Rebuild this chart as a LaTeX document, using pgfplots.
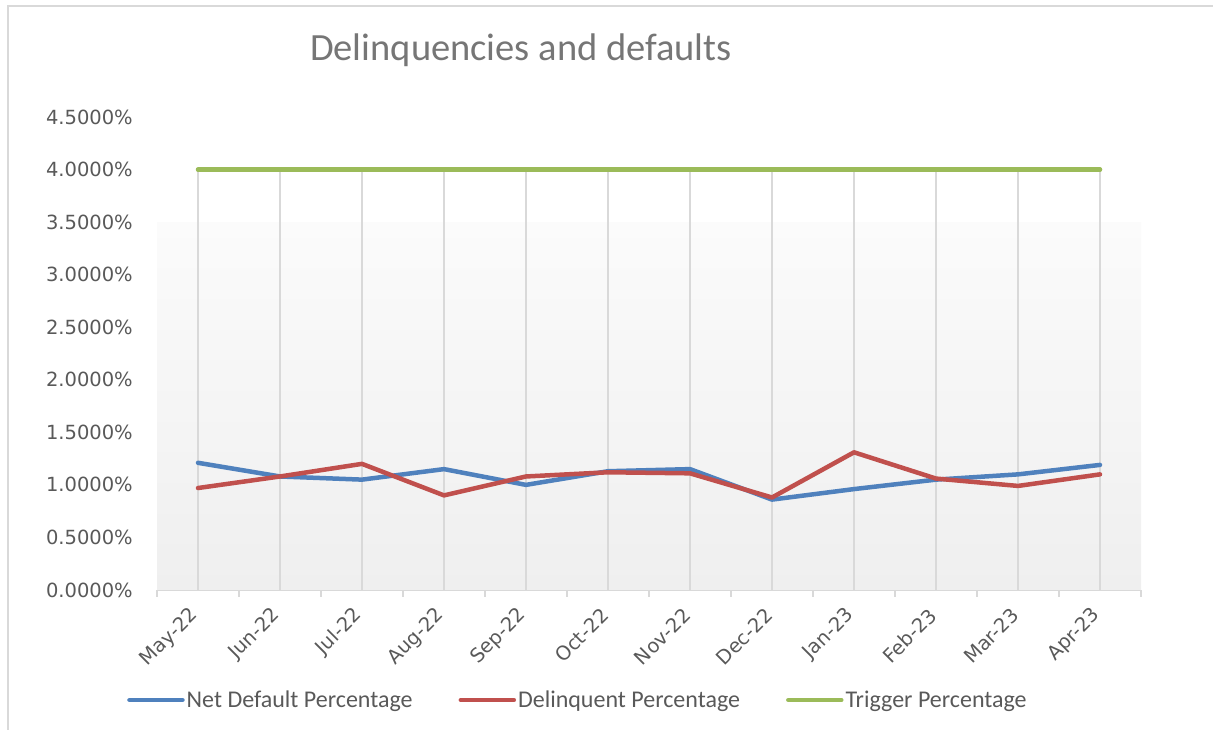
\documentclass[border=0pt]{standalone}
\usepackage{fontspec}
\usepackage{pgfplots}
\pgfplotsset{compat=1.18}
\setmainfont{Carlito}
\newfontfamily\dejavu{DejaVu Sans}
\definecolor{netblue}{HTML}{4F81BD}
\definecolor{delred}{HTML}{C0504D}
\definecolor{trigreen}{HTML}{9BBB59}
\definecolor{gridgray}{HTML}{D9D9D9}
\definecolor{labgray}{HTML}{595959}
\definecolor{titlegray}{HTML}{767676}
\definecolor{bgtop}{HTML}{FBFBFB}
\definecolor{bgbot}{HTML}{EFEFEF}

\pgfplotstableread{
x net del trig
0 1.21 0.97 4
1 1.08 1.08 4
2 1.05 1.20 4
3 1.15 0.90 4
4 1.00 1.08 4
5 1.13 1.12 4
6 1.15 1.11 4
7 0.86 0.88 4
8 0.96 1.31 4
9 1.05 1.06 4
10 1.10 0.99 4
11 1.19 1.10 4
}\datatable

\begin{document}
\begin{tikzpicture}[x=1pt,y=1pt]
\useasboundingbox (0,0) rectangle (1213,730);
\draw[gridgray, line width=1.5pt] (8,0) -- (8,724) -- (1213,724);
\node[anchor=base, font=\fontsize{38.5}{42}\selectfont, text=titlegray] at (521,669) {Delinquencies and defaults};
\begin{axis}[
  at={(157pt,140pt)}, anchor=south west,
  scale only axis, width=984pt, height=473pt,
  xmin=-0.5, xmax=11.5, ymin=0, ymax=4.5,
  axis x line*=bottom, axis y line*=left,
  axis line style={-},
  y axis line style={draw=none},
  x axis line style={draw=gridgray, line width=1.5pt},
  xtick={0,...,11},
  xticklabels={May-22,Jun-22,Jul-22,Aug-22,Sep-22,Oct-22,Nov-22,Dec-22,Jan-23,Feb-23,Mar-23,Apr-23},
  minor xtick={-0.5,0.5,...,11.5},
  major tick length=0pt,
  minor tick length=7pt,
  tick align=outside,
  minor tick style={gridgray, line width=1.5pt},
  ytick={0,0.5,...,4.5},
  yticklabels={0.0000\%,0.5000\%,1.0000\%,1.5000\%,2.0000\%,2.5000\%,3.0000\%,3.5000\%,4.0000\%,4.5000\%},
  ticklabel style={font=\dejavu\fontsize{19.5}{22}\selectfont, text=labgray, inner sep=0pt},
  yticklabel style={xshift=-24pt},
  xticklabel style={xshift=-3pt, yshift=-22pt, rotate=45, anchor=east},
  legend columns=3,
  legend style={at={(-0.0335,-0.2326)}, anchor=west, draw=none, fill=none,
    font=\fontsize{24}{26}\selectfont, text=labgray,
    nodes={inner sep=2pt},
    /tikz/every even column/.append style={column sep=44pt}},
  legend image code/.code={\draw[#1, line cap=round] (0pt,0pt) -- (53pt,0pt);},
  clip=false,
]
\fill[top color=bgtop, bottom color=bgbot] (axis cs:-0.5,0) rectangle (axis cs:11.5,3.5);
\addplot[ycomb, gridgray, line width=1.5pt, no marks, forget plot] table[x=x, y=trig] {\datatable};
\addplot[netblue, line width=4.5pt, line join=round, line cap=round, no marks] table[x=x, y=net] {\datatable};
\addplot[delred, line width=4.5pt, line join=round, line cap=round, no marks] table[x=x, y=del] {\datatable};
\addplot[trigreen, line width=4.5pt, line join=round, line cap=round, no marks] table[x=x, y=trig] {\datatable};
\legend{Net Default Percentage, Delinquent Percentage, Trigger Percentage}
\end{axis}
\end{tikzpicture}
\end{document}
